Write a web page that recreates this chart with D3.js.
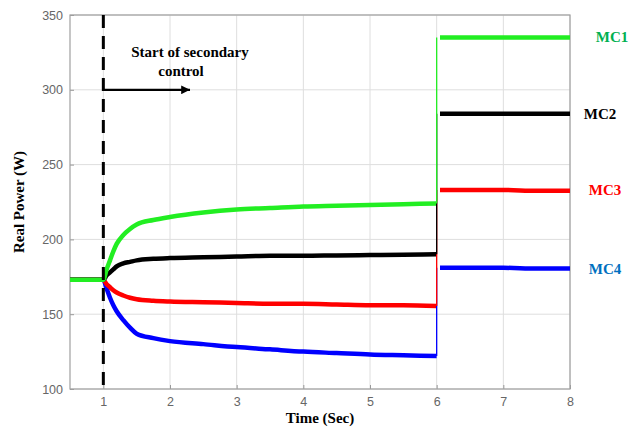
<!DOCTYPE html>
<html><head><meta charset="utf-8">
<script src="https://cdn.jsdelivr.net/npm/d3@7"></script>
<style>body{margin:0;background:#fff}svg{display:block}</style>
</head><body><svg id="c" width="630" height="429"></svg>
<script>
const xTicks = [1,2,3,4,5,6,7,8];
const yTicks = [100,150,200,250,300,350];
const timePre = [0.5,0.75,1.0,1.05,1.1,1.15,1.2,1.3,1.4,1.5,1.75,2.0,2.5,3.0,3.5,4.0,4.5,5.0,5.5,6.0];
const timePost = [6.0,6.05,6.5,7.0,7.5,8.0];
const seriesNames = ["MC1","MC2","MC3","MC4"];
const mc1Pre = [173,173,173,180,186,192,197,203,207,210,213,215,218,220,221,222,222.5,223,223.5,224];
const mc2Pre = [173,173,173,176,178,180,182,184,185,186,187,187.5,188,188.5,189,189,189.3,189.5,189.7,190];
const mc3Pre = [173,173,173,170,168,166,164.5,162.5,161,160,159,158.5,158,157.5,157,157,156.5,156,156,155.5];
const mc4Pre = [173,173,173,167,161,156,152,146,141,137,134,132,130,128,126.5,125,124,123,122.5,122];
const mc1Post = [224,335,335,335,335,335];
const mc2Post = [190,284,284,284,284,284];
const mc3Post = [155.5,233,233,233,232.5,232.5];
const mc4Post = [122,181,181,181,180.5,180.5];
const lineColors = ["#22ee22","#000000","#ff0000","#0000ff"];
const labelColors = ["#00b050","#000000","#ff0000","#0070c0"];
const eventTime = 1;

const svg = d3.select("#c");
const L=70,R=570,T=15,B=389;
const x = d3.scaleLinear().domain([0.5,8]).range([L,R]);
const y = d3.scaleLinear().domain([100,350]).range([B,T]);

// grid
svg.append("g").selectAll("line").data(xTicks).join("line")
  .attr("x1",d=>x(d)).attr("x2",d=>x(d)).attr("y1",T).attr("y2",B)
  .attr("stroke","#dedede").attr("stroke-width",1);
svg.append("g").selectAll("line").data(yTicks).join("line")
  .attr("x1",L).attr("x2",R).attr("y1",d=>y(d)).attr("y2",d=>y(d))
  .attr("stroke","#dedede").attr("stroke-width",1);

// axes
const ax = svg.append("g").attr("transform",`translate(0,${B})`)
  .call(d3.axisBottom(x).tickValues(xTicks).tickSize(-4).tickPadding(8));
const ay = svg.append("g").attr("transform",`translate(${L},0)`)
  .call(d3.axisLeft(y).tickValues(yTicks).tickSize(-4).tickPadding(7));
[ax,ay].forEach(a=>{
  a.select(".domain").remove();
  a.selectAll("line").attr("stroke","#999");
  a.selectAll("text").attr("fill","#666").style("font-family","'Liberation Sans', Arial, sans-serif").style("font-size","12.5px");
});
svg.append("rect").attr("x",L).attr("y",T).attr("width",R-L).attr("height",B-T)
  .attr("fill","none").attr("stroke","#a0a0a0").attr("stroke-width",1.2);

// data
const pre=[mc1Pre,mc2Pre,mc3Pre,mc4Pre], post=[mc1Post,mc2Post,mc3Post,mc4Post];
const line = d3.line().x(d=>x(d[0])).y(d=>y(d[1])).curve(d3.curveMonotoneX);
const order=[3,2,1,0];
order.forEach(i=>{
  svg.append("path").datum(timePre.map((t,k)=>[t,pre[i][k]])).attr("d",line)
    .attr("fill","none").attr("stroke",lineColors[i]).attr("stroke-width",4.5);
});
order.forEach(i=>{
  svg.append("line").attr("x1",x(timePost[0])).attr("x2",x(timePost[0]))
    .attr("y1",y(post[i][0])).attr("y2",y(post[i][1]))
    .attr("stroke",lineColors[i]).attr("stroke-width",1.3);
  svg.append("path").datum(timePost.slice(1).map((t,k)=>[t,post[i][k+1]])).attr("d",line)
    .attr("fill","none").attr("stroke",lineColors[i]).attr("stroke-width",4.5);
});

// dashed event line
svg.append("line").attr("x1",x(eventTime)).attr("x2",x(eventTime)).attr("y1",T).attr("y2",B)
  .attr("stroke","#000").attr("stroke-width",3).attr("stroke-dasharray","13,8");

// arrow
svg.append("defs").append("marker").attr("id","ah").attr("viewBox","0 0 10 10")
  .attr("refX",10).attr("refY",5).attr("markerWidth",7).attr("markerHeight",4)
  .attr("orient","auto").attr("markerUnits","strokeWidth")
  .append("path").attr("d","M0,0L10,5L0,10z").attr("fill","#000");
svg.append("line").attr("x1",x(eventTime)).attr("x2",x(2.3)).attr("y1",y(300)).attr("y2",y(300))
  .attr("stroke","#000").attr("stroke-width",2.2).attr("marker-end","url(#ah)");

const serif = "'Liberation Serif','Times New Roman',serif";
svg.append("text").attr("x",190).attr("y",57).attr("text-anchor","middle")
  .style("font-family",serif).style("font-weight","bold").style("font-size","15px").text("Start of secondary");
svg.append("text").attr("x",181).attr("y",76).attr("text-anchor","middle")
  .style("font-family",serif).style("font-weight","bold").style("font-size","15px").text("control");

// series labels
const labelY=[335,284,233,180.5];
const labelX=[612,600,605,605];
seriesNames.forEach((n,i)=>{
  svg.append("text").attr("x",labelX[i]).attr("y",y(labelY[i])+5).attr("text-anchor","middle")
    .attr("fill",labelColors[i]).style("font-family",serif).style("font-weight","bold").style("font-size","15px").text(n);
});

// axis titles
svg.append("text").attr("x",x(4.25)).attr("y",423).attr("text-anchor","middle")
  .style("font-family",serif).style("font-weight","bold").style("font-size","15px").text("Time (Sec)");
svg.append("text").attr("transform",`translate(24,${(T+B)/2}) rotate(-90)`).attr("text-anchor","middle")
  .style("font-family",serif).style("font-weight","bold").style("font-size","15px").text("Real Power (W)");
</script></body></html>
